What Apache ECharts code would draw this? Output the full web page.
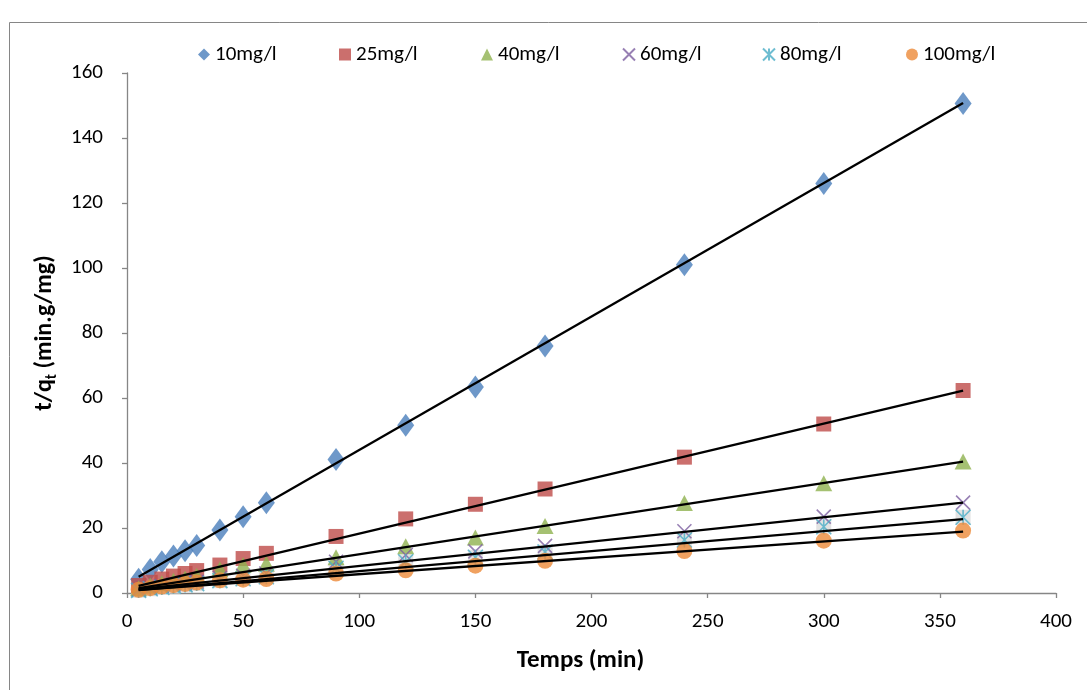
<!DOCTYPE html>
<html>
<head>
<meta charset="utf-8">
<script src="https://cdn.jsdelivr.net/npm/echarts@6/dist/echarts.min.js"></script>
<style>
html,body{margin:0;padding:0;background:#fff;}
#chart{width:1087px;height:690px;}
</style>
</head>
<body>
<div id="chart"></div>
<script>
// ---- data ----
const time = [5, 10, 15, 20, 25, 30, 40, 50, 60, 90, 120, 150, 180, 240, 300, 360];
const c10  = [4.2, 7.2, 9.6, 11.4, 13.0, 14.6, 19.4, 23.5, 27.8, 41.1, 51.6, 63.4, 76.0, 101.0, 126.0, 150.6];
const c25  = [2.3, 3.3, 4.3, 5.2, 6.0, 6.9, 8.6, 10.6, 12.2, 17.4, 22.8, 27.3, 32.0, 41.8, 52.0, 62.3];
const c40  = [1.5, 2.3, 3.0, 3.8, 4.5, 5.3, 7.3, 8.6, 9.0, 11.0, 14.4, 17.1, 20.6, 27.7, 33.8, 40.5];
const c60  = [1.0, 1.6, 2.1, 2.6, 3.0, 3.5, 4.6, 5.3, 6.0, 9.6, 11.7, 12.8, 14.5, 19.0, 23.5, 27.8];
const c80  = [0.8, 1.3, 1.7, 2.1, 2.5, 2.9, 3.8, 4.4, 5.0, 7.6, 9.6, 11.0, 12.6, 16.3, 20.4, 23.3];
const c100 = [1.0, 1.5, 2.0, 2.4, 2.8, 3.2, 3.9, 4.1, 4.3, 6.0, 7.0, 8.4, 9.9, 12.9, 16.1, 19.2];
const seriesNames = ['10mg/l', '25mg/l', '40mg/l', '60mg/l', '80mg/l', '100mg/l'];
// linear trend lines (Excel), value at first and last time
const trendX = [5, 360];
const trendStart = [5.0, 2.2, 1.5, 1.2, 0.9, 1.0];
const trendEnd   = [150.8, 62.3, 40.4, 27.8, 22.7, 18.9];
const xTicks = [0, 50, 100, 150, 200, 250, 300, 350, 400];
const yTicks = [0, 20, 40, 60, 80, 100, 120, 140, 160];

// ---- build ----
const values = [c10, c25, c40, c60, c80, c100];
const FONT = 'Carlito, Lato, "Liberation Sans", sans-serif';
const pairs = v => time.map((t, i) => [t, v[i]]);

const styles = [
  {symbol: 'diamond', symbolSize: [17, 23], itemStyle: {color: '#4a7ebb'}},
  {symbol: 'rect', symbolSize: 15, itemStyle: {color: '#be4b48'}},
  {symbol: 'triangle', symbolSize: [17, 16], itemStyle: {color: '#8fb24f'}},
  {symbol: 'path://M0,0L10,10M10,0L0,10', symbolSize: 14,
   itemStyle: {color: 'rgba(0,0,0,0)', borderColor: '#7d5fa0', borderWidth: 1.6}},
  {symbol: 'path://M0,0L10,10M10,0L0,10M5,0L5,10', symbolSize: 15,
   itemStyle: {color: 'rgba(0,0,0,0)', borderColor: '#4aacc5', borderWidth: 1.6}},
  {symbol: 'circle', symbolSize: 16, itemStyle: {color: '#ec8a38'}}
];

const series = [];
seriesNames.forEach((name, k) => {
  if (k === 4) {
    // light grey box behind the star marker
    series.push({
      type: 'scatter', name: name + ' box', data: pairs(values[k]),
      symbol: 'rect', symbolSize: 15, itemStyle: {color: '#dcdcdc'},
      z: 2, silent: true
    });
  }
  series.push(Object.assign({
    type: 'scatter', name: name, data: pairs(values[k]), z: 2 + k * 0.01, silent: true
  }, styles[k]));
});
seriesNames.forEach((name, k) => {
  series.push({
    type: 'line', name: name + ' fit',
    data: [[trendX[0], trendStart[k]], [trendX[1], trendEnd[k]]],
    showSymbol: false, symbol: 'none', silent: true, z: 5,
    lineStyle: {color: '#000', width: 2.3}
  });
});

const legendLeft = [198, 339, 481, 622, 762, 906];
const legends = seriesNames.map((name, k) => ({
  data: [name], left: legendLeft[k], top: 44, padding: 0,
  itemWidth: 12, itemHeight: 12,
  textStyle: {fontSize: 21, color: '#000', fontFamily: FONT},
  selectedMode: false
}));

const chart = echarts.init(document.getElementById('chart'), null, {renderer: 'canvas'});
chart.setOption({
  animation: false,
  backgroundColor: '#fff',
  textStyle: {fontFamily: FONT},
  graphic: [{
    type: 'rect', silent: true, z: -1,
    shape: {x: 9.5, y: 22.5, width: 1200, height: 800},
    style: {fill: 'none', stroke: '#868686', lineWidth: 1}
  }],
  legend: legends,
  grid: {left: 127, right: 31, top: 73, bottom: 97},
  xAxis: {
    type: 'value', min: xTicks[0], max: xTicks[xTicks.length - 1], interval: 50,
    name: 'Temps (min)', nameLocation: 'middle', nameGap: 55,
    nameTextStyle: {fontSize: 25, fontWeight: 'bold', color: '#000', fontFamily: FONT, padding: [0, 22, 0, 0]},
    axisLine: {show: true, lineStyle: {color: '#868686', width: 1.3}},
    axisTick: {show: true, length: 5, lineStyle: {color: '#868686', width: 1.3}},
    axisLabel: {fontSize: 21, color: '#000', margin: 18, fontFamily: FONT},
    splitLine: {show: false}
  },
  yAxis: {
    type: 'value', min: yTicks[0], max: yTicks[yTicks.length - 1], interval: 20,
    name: '{a|t/q}{b|t}{a| (min.g/mg)}', nameLocation: 'middle', nameGap: 67, nameRotate: 90,
    nameTextStyle: {
      color: '#000', fontFamily: FONT,
      rich: {
        a: {fontSize: 24, fontWeight: 'bold', lineHeight: 30, verticalAlign: 'middle', fontFamily: FONT, color: '#000'},
        b: {fontSize: 15, fontWeight: 'bold', lineHeight: 18, verticalAlign: 'bottom', fontFamily: FONT, color: '#000'}
      }
    },
    axisLine: {show: true, lineStyle: {color: '#868686', width: 1.3}},
    axisTick: {show: true, length: 5, lineStyle: {color: '#868686', width: 1.3}},
    axisLabel: {fontSize: 21, color: '#000', margin: 24, fontFamily: FONT},
    splitLine: {show: false}
  },
  series: series
});
</script>
</body>
</html>
